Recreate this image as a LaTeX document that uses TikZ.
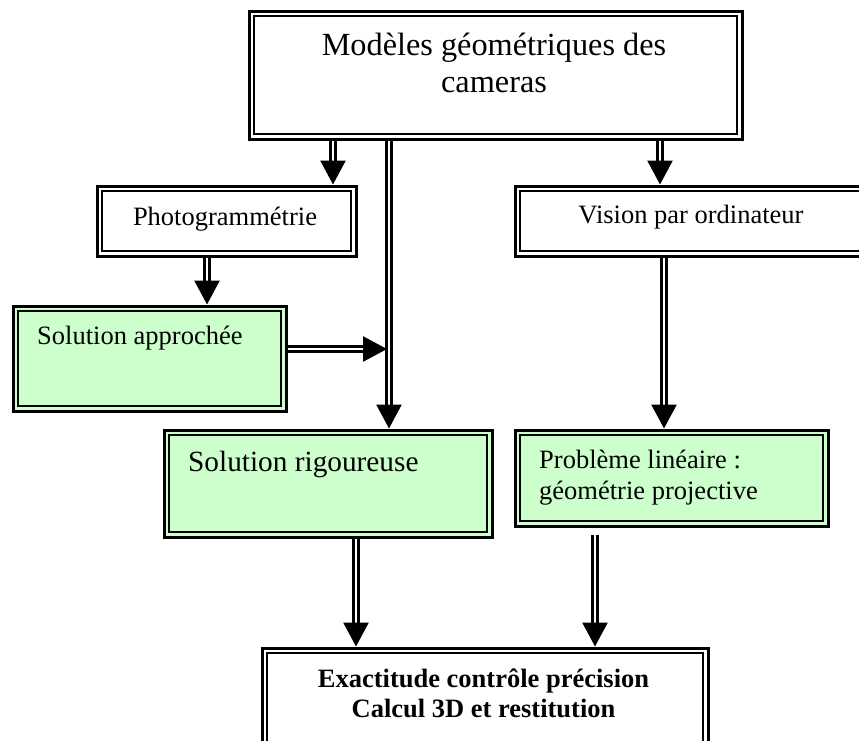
\documentclass[tikz,border=0pt]{standalone}
\usepackage{fontspec}
\setmainfont{Liberation Serif}
\usetikzlibrary{arrows.meta}
\definecolor{boxgreen}{RGB}{204,255,204}
\newcommand\fsnorm{\fontsize{26.5pt}{31pt}\selectfont}
\newcommand\fsmid{\fontsize{29.3pt}{34pt}\selectfont}
\newcommand\fsbig{\fontsize{32.3pt}{37pt}\selectfont}
\tikzset{
  dbox/.style={draw, line width=3.2pt, rectangle, inner sep=0pt, anchor=north west,
    path picture={\draw[line width=2.2pt]
      ([xshift=4.9pt,yshift=-4.9pt]path picture bounding box.north west) rectangle
      ([xshift=-4.9pt,yshift=4.9pt]path picture bounding box.south east);}},
  gbox/.style={dbox, fill=boxgreen},
  arr/.style={double, double distance=2pt, line width=2.6pt,
    -{Triangle[length=24pt,width=25pt]}},
  lbl/.style={inner sep=0pt, font=\fsnorm},
}
\begin{document}
\begin{tikzpicture}[x=1pt, y=-1pt]
\useasboundingbox (0,0) rectangle (859,740);
\clip (0,0) rectangle (859,740);
\fill[white] (0,0) rectangle (859,740);

% boxes (outer edge + half the border width)
\node[dbox, minimum width=493pt, minimum height=128pt] (top)  at (247.5,9.5) {};
\node[dbox, minimum width=259pt, minimum height=70pt]  (photo) at (95.5,184.5) {};
\node[dbox, minimum width=370pt, minimum height=70pt]  (vis)  at (513.5,184.5) {};
\node[gbox, minimum width=273pt, minimum height=105pt] (appr) at (11.5,304.5) {};
\node[gbox, minimum width=328pt, minimum height=107pt] (rig)  at (162.5,428.5) {};
\node[gbox, minimum width=313pt, minimum height=96pt]  (prob) at (513.5,428.5) {};
\node[dbox, minimum width=446pt, minimum height=100pt] (exact) at (260.5,646.5) {};

% texts
\node[lbl, font=\fsbig, anchor=base] (topA) at (494,55) {Modèles géométriques des};
\node[lbl, font=\fsbig, anchor=base] (topB) at (494,92) {cameras};
\node[lbl, anchor=base] (photoT) at (225,225) {Photogrammétrie};
\node[lbl, anchor=base] (visT) at (691,223) {Vision par ordinateur};
\node[lbl, anchor=base west] (apprT) at (37,344) {Solution approchée};
\node[lbl, font=\fsmid, anchor=base west] (rigT) at (188,471) {Solution rigoureuse};
\node[lbl, anchor=base west] (probA) at (539,468) {Problème linéaire :};
\node[lbl, anchor=base west] (probB) at (539,499) {géométrie projective};
\node[lbl, font=\fsnorm\bfseries, anchor=base] (exA) at (483.5,687) {Exactitude contrôle précision};
\node[lbl, font=\fsnorm\bfseries, anchor=base] (exB) at (483.5,717) {Calcul 3D et restitution};

% connector columns
\coordinate (xa) at (333,0);
\coordinate (xm) at (389,0);
\coordinate (xv) at (660,0);
\coordinate (xp) at (207,0);
\coordinate (xw) at (664,0);
\coordinate (xr) at (356,0);
\coordinate (xq) at (595,0);
\coordinate (hj) at (387,349);

\draw[arr] (xa |- top.south) -- (xa |- photo.north);
\draw[arr] (xm |- top.south) -- (xm |- rig.north);
\draw[arr] (xv |- top.south) -- (xv |- vis.north);
\draw[arr] (xp |- photo.south) -- (xp |- appr.north);
\draw[arr] (appr.east |- hj) -- (hj);
\draw[arr] (xw |- vis.south) -- (xw |- prob.north);
\draw[arr] (xr |- rig.south) -- (xr |- exact.north);
\draw[arr] ([yshift=-7pt]xq |- prob.south) -- (xq |- exact.north);
\end{tikzpicture}
\end{document}
